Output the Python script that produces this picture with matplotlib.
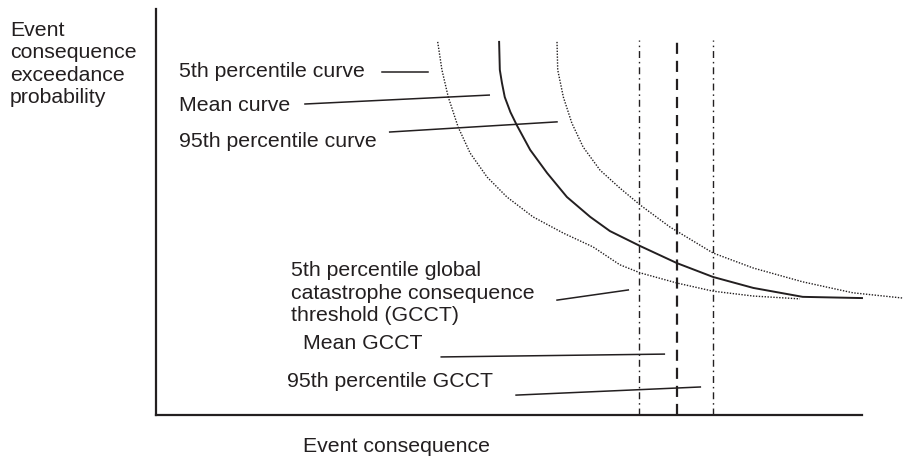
import matplotlib.pyplot as plt

plt.rcParams['font.family'] = ['Liberation Sans', 'DejaVu Sans']
plt.rcParams['lines.scale_dashes'] = False

INK = '#231f20'

# -----------------------------
# Curves (x: event consequence, y: exceedance probability, arbitrary 0-100 units)
# -----------------------------
mean_x = [48.6, 48.7, 49.0, 49.4, 50.2, 51.1, 53.0, 55.4, 58.2, 61.5, 64.3, 68.6, 73.8, 78.9, 84.6, 91.6, 100.0]
mean_y = [91.9, 85.0, 81.8, 78.3, 74.6, 71.4, 65.3, 59.6, 53.7, 48.8, 45.3, 41.6, 37.4, 34.0, 31.3, 29.1, 28.8]

p5_x = [39.9, 40.5, 41.4, 42.8, 44.5, 46.9, 49.7, 53.4, 57.7, 61.9, 65.7, 68.6, 73.8, 78.9, 84.6, 91.2]
p5_y = [91.9, 85.0, 78.3, 70.9, 64.5, 58.6, 53.7, 48.8, 44.8, 41.4, 37.0, 35.0, 32.5, 30.5, 29.3, 28.6]

p95_x = [56.8, 56.9, 57.7, 58.9, 60.5, 62.9, 65.7, 68.6, 72.8, 78.9, 84.6, 91.6, 98.7, 105.8]
p95_y = [91.9, 85.0, 78.3, 71.9, 66.0, 60.3, 55.9, 51.7, 46.3, 39.9, 36.2, 32.8, 30.1, 28.8]

# Thresholds (GCCT) and top of the vertical lines
gcct_x = [68.4, 73.8, 78.9]
gcct_top = 92.4

# -----------------------------
# Labels and their leader lines
# -----------------------------
curve_labels = ['5th percentile curve', 'Mean curve', '95th percentile curve']
gcct_labels = ['5th percentile global\ncatastrophe consequence\nthreshold (GCCT)',
               'Mean GCCT', '95th percentile GCCT']
y_label = 'Event\nconsequence\nexceedance\nprobability'
x_label = 'Event consequence'

leader_x0 = [32.0, 21.1, 33.1, 56.8, 40.4, 51.0]
leader_y0 = [84.5, 76.6, 69.7, 28.3, 14.3, 4.9]
leader_x1 = [38.5, 47.2, 56.8, 66.9, 72.0, 77.1]
leader_y1 = [84.5, 78.8, 72.2, 30.8, 15.0, 6.9]

# -----------------------------
# Figure
# -----------------------------
W, H = 907, 458
fig = plt.figure(figsize=(W / 100, H / 100), dpi=100)
ax = fig.add_axes([156 / W, 43 / H, 706 / W, 406 / H])
ax.set_xlim(0, 100)
ax.set_ylim(0, 100)
ax.set_xticks([])
ax.set_yticks([])
for side in ['top', 'right']:
    ax.spines[side].set_visible(False)
for side in ['left', 'bottom']:
    ax.spines[side].set_linewidth(1.6)
    ax.spines[side].set_color(INK)

dotted = dict(color=INK, linewidth=1.0, dashes=(1.0, 1.1), clip_on=False)
ax.plot(p5_x, p5_y, **dotted)
ax.plot(p95_x, p95_y, **dotted)
ax.plot(mean_x, mean_y, color=INK, linewidth=1.4, clip_on=False)

ax.plot([gcct_x[0]] * 2, [0, gcct_top], color=INK, linewidth=1.0,
        dashes=(5, 2.8, 1.1, 2.8), clip_on=False)
ax.plot([gcct_x[1]] * 2, [0, gcct_top], color=INK, linewidth=1.6,
        dashes=(8, 5), clip_on=False)
ax.plot([gcct_x[2]] * 2, [0, gcct_top], color=INK, linewidth=1.0,
        dashes=(5, 2.8, 1.1, 2.8), clip_on=False)

for x0, y0, x1, y1 in zip(leader_x0, leader_y0, leader_x1, leader_y1):
    ax.plot([x0, x1], [y0, y1], color=INK, linewidth=1.1, clip_on=False)


def put(text, x, y, step=22.4):
    # x, y: pixel position of the first baseline in the reference layout
    for i, line in enumerate(text.split('\n')):
        fig.text(x / W, 1 - (y + i * step) / H, line, fontsize=15.3,
                 color=INK, ha='left', va='baseline')


put(y_label, 10, 36)
for label, y in zip(curve_labels, [77, 111, 147]):
    put(label, 179, y)
put(gcct_labels[0], 291, 276, step=22.7)
put(gcct_labels[1], 303, 349)
put(gcct_labels[2], 287, 387)
put(x_label, 303, 452)

fig.savefig('out.png', dpi=100)
